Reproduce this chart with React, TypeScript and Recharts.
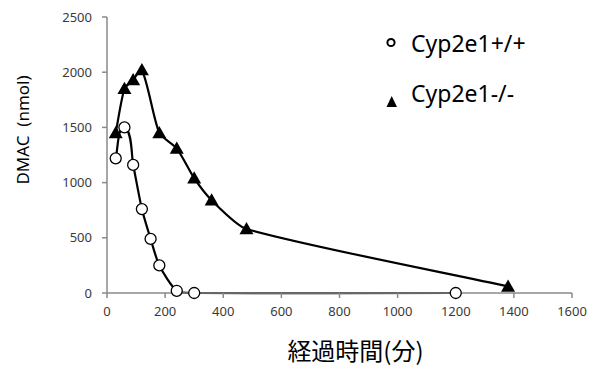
import React from 'react';
import { LineChart, Line, XAxis, YAxis } from 'recharts';

const wildX = [30, 60, 90, 120, 150, 180, 240, 300, 1200];
const wildY = [1220, 1500, 1160, 760, 490, 250, 20, 0, 0];
const koX = [30, 60, 90, 120, 180, 240, 300, 360, 480, 1380];
const koY = [1450, 1850, 1930, 2020, 1450, 1310, 1040, 840, 580, 60];
const xTicks = [0, 200, 400, 600, 800, 1000, 1200, 1400, 1600];
const yTicks = [0, 500, 1000, 1500, 2000, 2500];
const seriesNames = ['Cyp2e1+/+', 'Cyp2e1-/-'];

const wildData = wildX.map((x, i) => ({ x, y: wildY[i] }));
const koData = koX.map((x, i) => ({ x, y: koY[i] }));

const FONT = '"Noto Sans", sans-serif';
const CJK = '"Noto Sans CJK JP", sans-serif';
const AXIS = '#8a8a8a';
const TICK = { fill: '#3a3a3a', fontSize: 13, fontFamily: FONT };

// Excel-like smoothed line: cubic Bezier with tangent along neighbours,
// control distance proportional to segment length.
const smoothCurve = (context: any) => {
  let pts: number[][] = [];
  const k = 0.22;
  const norm = (a: number[], b: number[]) => {
    const dx = b[0] - a[0];
    const dy = b[1] - a[1];
    const l = Math.hypot(dx, dy) || 1;
    return [dx / l, dy / l];
  };
  return {
    areaStart() {},
    areaEnd() {},
    lineStart() {
      pts = [];
    },
    point(x: number, y: number) {
      pts.push([+x, +y]);
    },
    lineEnd() {
      const n = pts.length;
      if (!n) return;
      context.moveTo(pts[0][0], pts[0][1]);
      for (let i = 0; i < n - 1; i++) {
        const p0 = pts[i];
        const p1 = pts[i + 1];
        const prev = i > 0 ? pts[i - 1] : p0;
        const next = i + 2 < n ? pts[i + 2] : p1;
        const len = Math.hypot(p1[0] - p0[0], p1[1] - p0[1]);
        const d0 = norm(prev, p1);
        const d1 = norm(p0, next);
        context.bezierCurveTo(
          p0[0] + d0[0] * len * k,
          p0[1] + d0[1] * len * k,
          p1[0] - d1[0] * len * k,
          p1[1] - d1[1] * len * k,
          p1[0],
          p1[1]
        );
      }
    },
  };
};

const Circle = (props: any) => {
  const { cx, cy } = props;
  if (cx == null || cy == null) return null;
  return <circle cx={cx} cy={cy} r={5.5} fill="#fff" stroke="#000" strokeWidth={1.3} />;
};
const Tri = (props: any) => {
  const { cx, cy } = props;
  if (cx == null || cy == null) return null;
  const s = 7;
  return (
    <polygon
      points={`${cx},${cy - s} ${cx - s},${cy + s * 0.75} ${cx + s},${cy + s * 0.75}`}
      fill="#000"
    />
  );
};

const LegendOverlay = () => (
  <svg
    width={596}
    height={367}
    style={{ position: 'absolute', left: 0, top: 0, pointerEvents: 'none' }}
  >
    <circle cx={391} cy={42.5} r={3.6} fill="#fff" stroke="#000" strokeWidth={2} />
    <text x={411} y={51.7} fontFamily={FONT} fontSize={23} fill="#000">
      {seriesNames[0]}
    </text>
    <polygon points="391.7,96 386.5,107 397,107" fill="#000" />
    <text x={411} y={101.7} fontFamily={FONT} fontSize={23} fill="#000">
      {seriesNames[1]}
    </text>
  </svg>
);

export default function App() {
  return (
    <div style={{ position: 'absolute', left: 0, top: 0, width: 596, height: 367, background: '#fff' }}>
      <LineChart width={596} height={367} margin={{ top: 17, right: 24, bottom: 44, left: 47 }}>
        <XAxis
          type="number"
          dataKey="x"
          domain={[0, 1600]}
          ticks={xTicks}
          interval={0}
          stroke={AXIS}
          strokeWidth={1.5}
          tickLine={{ stroke: AXIS }}
          tickSize={5}
          tickMargin={9}
          tick={TICK}
          height={30}
          label={{
            value: '経過時間(分)',
            position: 'bottom',
            offset: 20,
            dx: 16,
            style: { fontFamily: CJK, fontSize: 24, fill: '#000' },
          }}
        />
        <YAxis
          type="number"
          dataKey="y"
          domain={[0, 2500]}
          ticks={yTicks}
          interval={0}
          stroke={AXIS}
          strokeWidth={1.5}
          tickLine={{ stroke: AXIS }}
          tickSize={5}
          tickMargin={10}
          tick={TICK}
          width={60}
          label={{
            value: 'DMAC\u00A0\u00A0(nmol)',
            angle: -90,
            position: 'insideLeft',
            offset: -24,
            dy: -25,
            style: { fontFamily: FONT, fontSize: 17, fill: '#000', textAnchor: 'middle' },
          }}
        />
        <Line
          data={wildData}
          dataKey="y"
          name={seriesNames[0]}
          type={smoothCurve as any}
          stroke="#000"
          strokeWidth={2.2}
          dot={<Circle />}
          isAnimationActive={false}
        />
        <Line
          data={koData}
          dataKey="y"
          name={seriesNames[1]}
          type={smoothCurve as any}
          stroke="#000"
          strokeWidth={2.2}
          dot={<Tri />}
          isAnimationActive={false}
        />
      </LineChart>
      <LegendOverlay />
    </div>
  );
}
